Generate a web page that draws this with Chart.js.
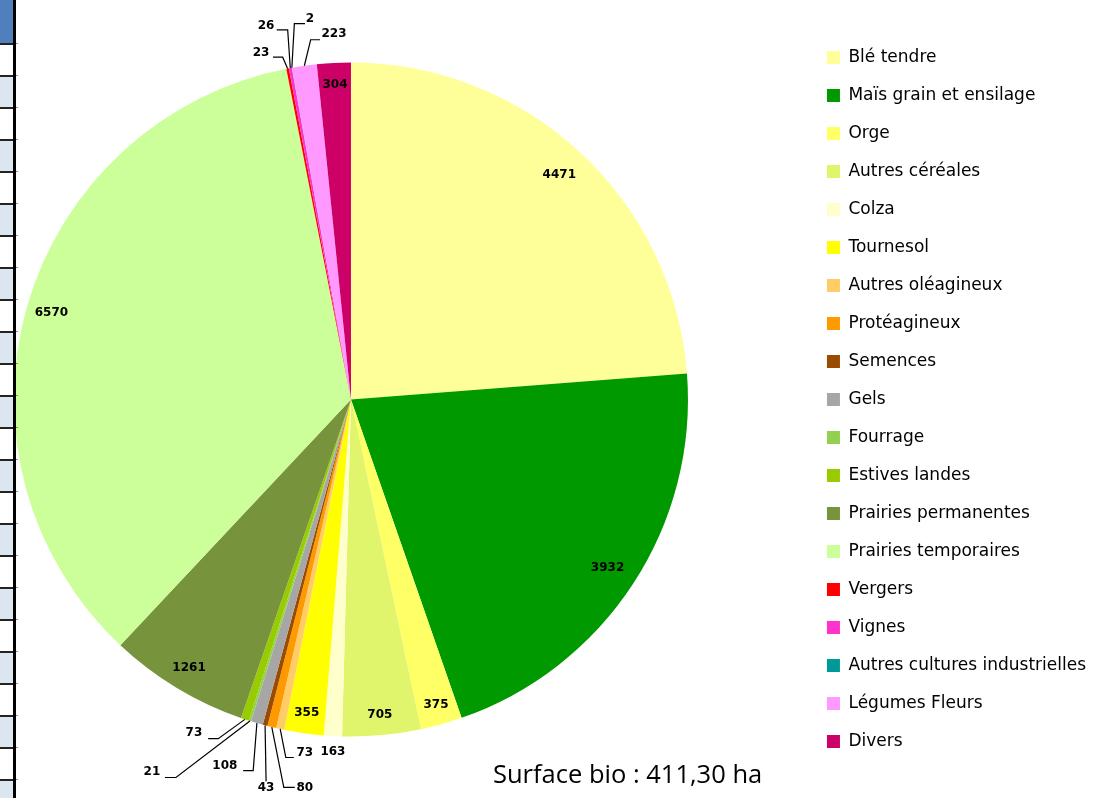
<!DOCTYPE html>
<html><head><meta charset="utf-8">
<script src="https://cdn.jsdelivr.net/npm/chart.js@4"></script>
<style>
html,body{margin:0;padding:0;background:#fff;overflow:hidden;}
#wrap{position:absolute;left:0;top:0;width:1096px;height:798px;overflow:hidden;}
#c{position:absolute;left:-104px;top:0;}
#strip{position:absolute;left:0;top:0;width:20px;height:798px;}
</style></head><body>
<div id="wrap"><canvas id="c" width="1200" height="798"></canvas></div>
<div id="strip"></div>
<script>
// ---- data ----
const categories = ["Blé tendre","Maïs grain et ensilage","Orge","Autres céréales","Colza","Tournesol","Autres oléagineux","Protéagineux","Semences","Gels","Fourrage","Estives landes","Prairies permanentes","Prairies temporaires","Vergers","Vignes","Autres cultures industrielles","Légumes Fleurs","Divers"];
const values = [4471,3932,375,705,163,355,73,80,43,108,21,73,1261,6570,23,26,2,223,304];
const sliceColors = ["#ffff99","#009900","#ffff66","#e0f56c","#ffffcc","#ffff00","#ffcc66","#ff9900","#994c00","#a6a6a6","#92d050","#99cc00","#77933c","#ccff99","#ff0000","#ff33cc","#009999","#ff99ff","#cc0066"];
const footerText = "Surface bio : 411,30 ha";

// ---- label placement (relative to each slice's own geometry) ----
const labelLayout = [
  {inside:0.91},
  {inside:0.91},
  {inside:0.94},
  {inside:0.94},
  {text:[0,15.5]},
  {inside:0.94},
  {leader:[[5.6,28.5],[13.6,28.5]], text:[24.6,23.5]},
  {leader:[[12,60.4],[23,60.4]], text:[33,60.4]},
  {leader:[[1,56]], text:[1,63]},
  {leader:[[-3.7,47.5],[-13.7,47.5]], text:[-32,42.5]},
  {leader:[[-74,56.5],[-85,56.5]], text:[-98,50.5]},
  {leader:[[-26.7,19.3],[-36.7,19.3]], text:[-51,14]},
  {inside:0.93},
  {inside:0.925},
  {leader:[[-4.9,-11.3],[-14.6,-11.3]], text:[-26.6,-16]},
  {leader:[[-2.6,-38.1],[-13.6,-38.1]], text:[-24.3,-42.4]},
  {leader:[[2.5,-44.1],[13.2,-44.1]], text:[18.2,-48.9]},
  {leader:[[6.3,-26],[15.6,-26]], text:[29.6,-31.8]},
  {inside:0.936}
];
const canvasShift = 104; // canvas is offset left inside the page

const labelPlugin = {
  id:'sliceLabels',
  afterDatasetsDraw(chart){
    const ctx = chart.ctx;
    const meta = chart.getDatasetMeta(0);
    ctx.save();
    ctx.font = 'bold 12px "DejaVu Sans"';
    ctx.fillStyle = '#000';
    ctx.strokeStyle = '#000';
    ctx.lineWidth = 1.2;
    ctx.textAlign = 'center';
    ctx.textBaseline = 'middle';
    meta.data.forEach((arc,i)=>{
      const L = labelLayout[i];
      const p = arc.getProps(['x','y','startAngle','endAngle','outerRadius'], true);
      const mid = (p.startAngle + p.endAngle)/2;
      const txt = String(values[i]);
      if (L.inside != null) {
        ctx.fillText(txt, p.x + Math.cos(mid)*p.outerRadius*L.inside, p.y + Math.sin(mid)*p.outerRadius*L.inside);
      } else {
        const ax = p.x + Math.cos(mid)*p.outerRadius, ay = p.y + Math.sin(mid)*p.outerRadius;
        if (L.leader) {
          ctx.beginPath(); ctx.moveTo(ax, ay);
          L.leader.forEach(q=>ctx.lineTo(ax+q[0], ay+q[1]));
          ctx.stroke();
        }
        ctx.fillText(txt, ax + L.text[0], ay + L.text[1]);
      }
    });
    ctx.textAlign = 'left';
    ctx.textBaseline = 'alphabetic';
    ctx.font = '25.5px "Open Sans"';
    ctx.fillText(footerText, 493 + canvasShift, 783);
    ctx.restore();
  }
};

new Chart(document.getElementById('c'), {
  type:'pie',
  data:{ labels:categories, datasets:[{ data:values, backgroundColor:sliceColors, borderWidth:0, radius:337 }] },
  options:{
    responsive:false,
    animation:false,
    layout:{ padding:{left:0, right:0, top:1, bottom:0} },
    plugins:{
      tooltip:{enabled:false},
      legend:{
        position:'right',
        align:'center',
        labels:{ color:'#000', font:{family:'DejaVu Sans', size:17}, boxWidth:13, boxHeight:13, padding:21 }
      }
    }
  },
  plugins:[labelPlugin]
});

// ---- spreadsheet strip at the left edge (decoration) ----
(function(){
  let h = '<div style="position:absolute;left:0;top:0;width:13px;height:43px;background:#4f7fbd"></div>';
  for (let k=0, y=43; y<798; k++, y+=32) {
    h += '<div style="position:absolute;left:0;top:'+y+'px;width:13px;height:32px;box-sizing:border-box;border-top:2px solid #222;background:'+(k%2?'#dce6f1':'#ffffff')+'"></div>';
    h += '<div style="position:absolute;left:16px;top:'+y+'px;width:2px;height:1px;background:#888"></div>';
  }
  h += '<div style="position:absolute;left:13px;top:0;width:3px;height:798px;background:#000"></div>';
  document.getElementById('strip').innerHTML = h;
})();
</script>
</body></html>
